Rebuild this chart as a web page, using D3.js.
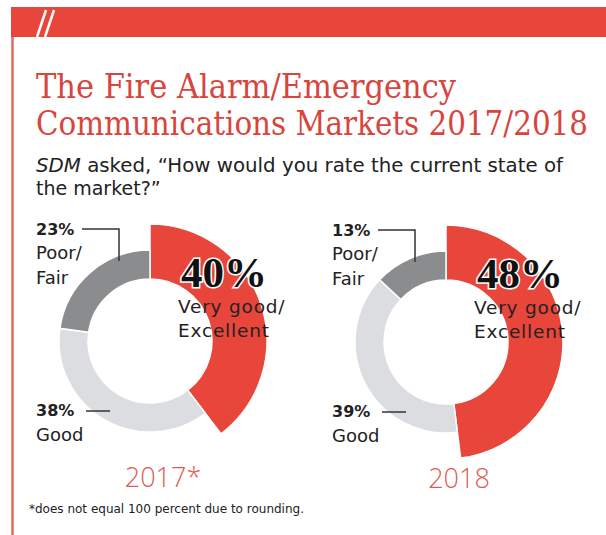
<!DOCTYPE html>
<html>
<head>
<meta charset="utf-8">
<script src="https://cdn.jsdelivr.net/npm/d3@7"></script>
<style>
  body { margin: 0; background: #fff; }
  svg { display: block; }
</style>
</head>
<body>
<script>
const width = 606;
const height = 535;

// data
const years = ["2017*", "2018"];
const categories = ["Very good/Excellent", "Good", "Poor/Fair"];
const values2017 = [40, 38, 23];
const values2018 = [48, 39, 13];
const footnote = "*does not equal 100 percent due to rounding.";

const red = "#e8463b";
const sans = "'DejaVu Sans', 'Open Sans', sans-serif";
const colors = d3.scaleOrdinal().domain(categories).range([red, "#dcdde0", "#8b8c8e"]);
const outerR = d3.scaleOrdinal().domain(categories).range([117, 91, 91]);
const innerR = 62;

const svg = d3.select("body").append("svg")
      .attr("width", width)
      .attr("height", height);

// frame
svg.append("rect")
      .attr("x", 11).attr("y", 7)
      .attr("width", width - 11).attr("height", 30)
      .attr("fill", red);
svg.append("line")
      .attr("x1", 12.5).attr("x2", 12.5)
      .attr("y1", 37).attr("y2", height)
      .attr("stroke", "#e56a5a")
      .attr("stroke-width", 2.5);
[0, 8].forEach(dx => {
  svg.append("line")
        .attr("x1", 37 + dx).attr("y1", 37)
        .attr("x2", 46 + dx).attr("y2", 10)
        .attr("stroke", "#fff")
        .attr("stroke-width", 2.5);
});

// title
const title = svg.append("g")
      .attr("font-family", "'DejaVu Serif Condensed', 'DejaVu Serif', serif")
      .attr("font-size", 33)
      .attr("fill", "#d8453c");
title.append("text").attr("x", 36).attr("y", 98)
      .attr("textLength", 420).attr("lengthAdjust", "spacingAndGlyphs")
      .text("The Fire Alarm/Emergency");
title.append("text").attr("x", 36).attr("y", 135)
      .attr("textLength", 552).attr("lengthAdjust", "spacingAndGlyphs")
      .text("Communications Markets 2017/2018");

const sub = svg.append("g")
      .attr("font-family", sans)
      .attr("font-size", 19)
      .attr("fill", "#222");
const s1 = sub.append("text").attr("x", 36).attr("y", 172)
      .attr("textLength", 527).attr("lengthAdjust", "spacingAndGlyphs");
s1.append("tspan").attr("font-style", "italic").text("SDM");
s1.append("tspan").text(" asked, \u201cHow would you rate the current state of");
sub.append("text").attr("x", 36).attr("y", 195).text("the market?\u201d");

// donuts
const pie = d3.pie().sort(null).value(d => d.value);
const arc = d3.arc()
      .innerRadius(innerR)
      .outerRadius(d => outerR(d.data.category));

const centers = [{x: 150, y: 341}, {x: 446, y: 342}];

function renderDonut(values, year, c) {
  const data = categories.map((cat, i) => ({category: cat, value: values[i]}));
  const g = svg.append("g").attr("transform", `translate(${c.x}, ${c.y})`);

  g.selectAll("path")
        .data(pie(data))
        .enter()
        .append("path")
        .attr("d", arc)
        .attr("fill", d => colors(d.data.category))
        .attr("stroke", "#fff")
        .attr("stroke-width", 1.5);

  const lx = 36 - 150; // labels column, relative to center
  const lab = g.append("g")
        .attr("font-family", sans)
        .attr("fill", "#222");

  // poor / fair
  lab.append("text").attr("x", lx).attr("y", -106)
        .attr("font-size", 16).attr("font-weight", "bold")
        .text(values[2] + "%");
  lab.append("text").attr("x", lx).attr("y", -82).attr("font-size", 18).text("Poor/");
  lab.append("text").attr("x", lx).attr("y", -57).attr("font-size", 18).text("Fair");
  g.append("path")
        .attr("d", `M${lx + 46},-112H${-31}V${-80}`)
        .attr("fill", "none")
        .attr("stroke", "#333")
        .attr("stroke-width", 1.5);

  // good
  lab.append("text").attr("x", lx).attr("y", 75)
        .attr("font-size", 16).attr("font-weight", "bold")
        .text(values[1] + "%");
  lab.append("text").attr("x", lx).attr("y", 100).attr("font-size", 18).text("Good");
  g.append("line")
        .attr("x1", lx + 50).attr("x2", lx + 74)
        .attr("y1", 70).attr("y2", 70)
        .attr("stroke", "#333")
        .attr("stroke-width", 1.5);

  // very good / excellent
  lab.append("text").attr("x", 31).attr("y", -54)
        .attr("font-family", "'Liberation Serif', serif")
        .attr("font-size", 43).attr("font-weight", "bold")
        .attr("fill", "#111")
        .attr("stroke", "#fff").attr("stroke-width", 3)
        .attr("paint-order", "stroke")
        .text(values[0] + "%");
  lab.append("text").attr("x", 28).attr("y", -28).attr("font-size", 18.5)
        .attr("letter-spacing", 0.8).text("Very good/");
  lab.append("text").attr("x", 28).attr("y", -4).attr("font-size", 18.5)
        .attr("letter-spacing", 0.8).text("Excellent");

  // year
  g.append("text")
        .attr("x", 13).attr("y", 146)
        .attr("text-anchor", "middle")
        .attr("font-family", "'Open Sans', sans-serif")
        .attr("font-weight", 300)
        .attr("font-size", 27)
        .attr("fill", "#e05a55")
        .text(year);
}

renderDonut(values2017, years[0], centers[0]);
renderDonut(values2018, years[1], centers[1]);

svg.append("text")
      .attr("x", 29).attr("y", 513)
      .attr("font-family", sans)
      .attr("font-size", 12)
      .attr("fill", "#222")
      .text(footnote);
</script>
</body>
</html>
